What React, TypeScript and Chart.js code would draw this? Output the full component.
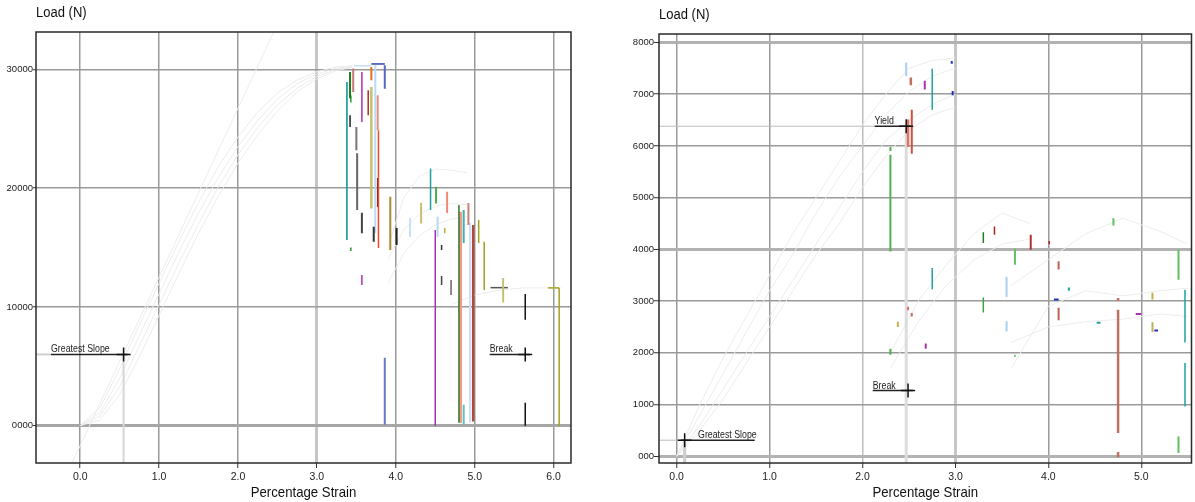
import React, { useEffect, useRef } from "react";
import { Chart, registerables } from "chart.js";
Chart.register(...registerables);

// ---------------- LEFT PANEL DATA ----------------
const leftStrainTicks = [0, 1, 2, 3, 4, 5, 6];
const leftStrainTickLabels = ["0.0", "1.0", "2.0", "3.0", "4.0", "5.0", "6.0"];
const leftLoadTicks = [0, 10000, 20000, 30000];
const leftLoadTickLabels = ["0000", "10000", "20000", "30000"];

const leftCurveStrain = [0, 0.25, 0.5, 0.75, 1.0, 1.25, 1.5, 1.75, 2.0, 2.25, 2.5, 2.75, 3.0, 3.25, 3.45];
const leftCurve1 = [0, 1500, 4800, 8500, 12000, 15500, 18800, 21800, 24300, 26400, 28000, 29100, 29800, 30200, 30300];
const leftCurve2 = [0, 1100, 4000, 7600, 11100, 14600, 17900, 20900, 23500, 25700, 27500, 28800, 29600, 30100, 30250];
const leftCurve3 = [0, 800, 3300, 6700, 10200, 13700, 17000, 20100, 22800, 25100, 27000, 28400, 29400, 30000, 30200];
const leftCurve4 = [0, 500, 2600, 5800, 9300, 12800, 16200, 19300, 22100, 24500, 26500, 28100, 29200, 29900, 30150];
const leftTailStrain = [3.9, 4.1, 4.3, 4.5, 4.7, 4.9];
const leftTail1 = [15000, 19200, 21000, 21600, 21500, 21300];
const leftTail2 = [14000, 16500, 17800, 18500, 18700, 18600];
const leftTail3 = [12000, 14500, 16000, 16900, 17400, 17600];
const leftLateStrain = [4.7, 5.0, 5.3, 5.6, 5.9, 6.1];
const leftLate = [10200, 11000, 11400, 11600, 11600, 11600];

// vertical segments: strain, upper load, lower load
const leftSegStrain = [3.38, 3.42, 3.46, 3.42, 3.43, 3.57, 3.5, 3.51, 3.57, 3.72, 3.69, 3.69, 3.74, 3.65, 3.77, 3.78, 3.77, 3.86, 3.86, 3.57, 3.93, 4.01, 4.18, 4.32, 4.44, 4.51, 4.53, 4.65, 4.62, 4.58, 4.58, 4.7, 4.5, 4.8, 4.82, 4.86, 4.86, 4.92, 4.94, 4.98, 5.05, 5.12, 5.36, 5.64, 5.64, 6.07, 3.43];
const leftSegUpper = [28930, 29770, 30060, 26130, 27800, 29770, 25150, 22940, 17920, 16750, 30200, 28510, 30340, 28240, 27810, 24870, 20840, 30340, 5710, 12690, 19270, 16640, 17480, 18770, 21650, 20110, 17590, 19700, 16650, 15200, 12600, 12270, 16470, 18570, 18010, 18150, 1760, 18740, 17060, 16890, 17310, 15490, 12440, 11090, 1930, 11600, 15000];
const leftSegLower = [15630, 27560, 28090, 25150, 27200, 25570, 23190, 18150, 16210, 15490, 29080, 18290, 16220, 26130, 24870, 14960, 18400, 28370, 80, 11850, 14790, 15210, 15880, 17030, 18150, 18710, 15910, 17900, 16200, 14800, 11850, 11010, 0, 250, 250, 15380, 80, 16890, 250, 360, 15380, 11430, 10360, 8910, 0, 0, 14700];
const leftSegColor = ["#1fa0a0", "#1a7a1a", "#c87878", "#222222", "#2a9a2a", "#b030b0", "#777777", "#666666", "#444444", "#333333", "#e07020", "#c8c070", "#b8dcf8", "#b03020", "#f08878", "#f04a2a", "#702020", "#5868c0", "#6a78c8", "#b030b0", "#b08830", "#222222", "#c8e0f8", "#c8c070", "#1fa0a0", "#48b048", "#b8d8f8", "#f08878", "#b0b040", "#333333", "#444444", "#666666", "#a030b0", "#2a7a2a", "#f89888", "#40b0b0", "#60c0c0", "#c88078", "#c8e0f8", "#b04a3a", "#a0a020", "#a0a020", "#c8c070", "#111111", "#111111", "#a8a020", "#2a9a2a"];
const leftSegWidth = [1, 2, 2, 1.5, 1.5, 1.5, 2, 2, 2, 2, 2, 2.5, 2, 1.5, 2, 1.5, 1.5, 2, 2, 1.5, 2, 2, 2, 2, 1.5, 2, 2, 2, 1.5, 1.5, 1.5, 1.5, 1.5, 1.5, 3, 2, 2, 2, 2, 2.5, 1.5, 1.5, 2, 1.5, 1.5, 1.5, 1.5];

// horizontal dashes: from strain, to strain, load
const leftDashFrom = [3.69, 3.47, 5.93, 5.2];
const leftDashTo = [3.86, 3.69, 6.07, 5.42];
const leftDashLoad = [30450, 30300, 11600, 11620];
const leftDashColor = ["#3040b0", "#c8dcf0", "#a8a020", "#555555"];

// annotations
const leftMarkNames = ["Greatest Slope", "Break"];
const leftMarkStrain = [0.55, 5.64];
const leftMarkLoad = [6000, 6000];
const leftMarkLabelStrain = [-0.37, 5.19];
const leftMarkLineEnd = [0.6, 5.7];

// ---------------- RIGHT PANEL DATA ----------------
const rightStrainTicks = [0, 1, 2, 3, 4, 5];
const rightStrainTickLabels = ["0.0", "1.0", "2.0", "3.0", "4.0", "5.0"];
const rightLoadTicks = [0, 1000, 2000, 3000, 4000, 5000, 6000, 7000, 8000];
const rightLoadTickLabels = ["000", "1000", "2000", "3000", "4000", "5000", "6000", "7000", "8000"];

const rightCurveStrain = [0, 0.25, 0.5, 0.75, 1.0, 1.25, 1.5, 1.75, 2.0, 2.25, 2.5, 2.75, 3.0];
const rightCurve1 = [0, 1000, 1900, 2700, 3500, 4300, 5000, 5700, 6400, 7000, 7500, 7650, 7700];
const rightCurve2 = [0, 800, 1600, 2400, 3200, 3900, 4700, 5400, 6000, 6600, 7050, 7350, 7500];
const rightCurve3 = [0, 600, 1300, 2000, 2700, 3400, 4100, 4800, 5500, 6100, 6500, 6800, 7000];
const rightCurve4 = [0, 500, 1100, 1800, 2500, 3200, 3900, 4500, 5200, 5800, 6300, 6600, 6750];
const rightMidStrain = [2.3, 2.6, 2.9, 3.2, 3.5, 3.8];
const rightMid1 = [2000, 3000, 3700, 4300, 4700, 4500];
const rightMid2 = [1700, 2600, 3300, 3800, 4100, 4200];
const rightLateStrain = [3.6, 4.0, 4.4, 4.8, 5.2, 5.5];
const rightLate1 = [1700, 2900, 3200, 3100, 3200, 3250];
const rightLate2 = [3300, 3800, 4300, 4600, 4350, 4100];
const rightLate3 = [2200, 2500, 2600, 2650, 2750, 2700];

const rightSegStrain = [2.47, 2.52, 2.67, 2.75, 2.96, 2.97, 2.53, 2.49, 2.3, 2.3, 3.3, 3.42, 3.81, 3.64, 2.75, 3.55, 3.55, 3.3, 4.11, 4.11, 4.22, 4.75, 4.75, 4.75, 5.4, 5.4, 5.47, 5.12, 5.12, 4.7, 2.68, 2.3, 2.49, 2.53, 2.38, 3.64, 4.01, 5.47];
const rightSegUpper = [7610, 7320, 7260, 7490, 7640, 7060, 6700, 6510, 5980, 5830, 4330, 4440, 4280, 4010, 3640, 3470, 2610, 3070, 3770, 2870, 3260, 2830, 3060, 80, 3990, 380, 3220, 3160, 2590, 4600, 2180, 2080, 2890, 2770, 2600, 1960, 4160, 1800];
const rightSegLower = [7350, 7170, 7090, 6700, 7590, 6980, 5850, 5980, 5900, 3960, 4120, 4280, 3990, 3700, 3230, 3080, 2410, 2780, 3610, 2630, 3200, 450, 3000, -20, 3410, 60, 2200, 3030, 2400, 4460, 2080, 1960, 2820, 2700, 2500, 1920, 4100, 960];
const rightSegColor = ["#a8d0f0", "#c07060", "#b030b0", "#20a0a0", "#2030c0", "#2030c0", "#d05040", "#e07060", "#50b050", "#50b050", "#208020", "#b02020", "#b03030", "#60c060", "#20a0a0", "#a8d0f0", "#a8d0f0", "#40a040", "#c06050", "#c06050", "#20a0a0", "#c07060", "#c07060", "#c07060", "#60c060", "#60c060", "#20a0a0", "#c0b050", "#c0b050", "#60c060", "#b030b0", "#50b050", "#e04030", "#c07060", "#c0b050", "#60c060", "#b02020", "#20a0a0"];
const rightSegWidth = [2, 2.5, 2, 1.5, 2, 2, 2, 2.5, 2, 2, 1.5, 1.5, 2, 2, 1.5, 2, 2, 1.5, 2, 2, 2, 2.5, 2.5, 2.5, 2, 2, 1.5, 2, 2, 2, 2, 2, 1.5, 2, 2, 1.5, 1.5, 1.5];

const rightDashFrom = [4.06, 4.94, 5.14, 4.52];
const rightDashTo = [4.11, 5.0, 5.18, 4.56];
const rightDashLoad = [3030, 2750, 2430, 2580];
const rightDashColor = ["#2030c0", "#b030b0", "#2030c0", "#20a0a0"];

const rightMarkNames = ["Yield", "Break", "Greatest Slope"];
const rightMarkStrain = [2.47, 2.49, 0.086];
const rightMarkLoad = [6380, 1270, 310];
const rightMarkLabelStrain = [2.13, 2.11, 0.23];
const rightMarkLineStart = [2.13, 2.11, 0.045];
const rightMarkLineEnd = [2.52, 2.54, 0.84];

const FONT = "'Liberation Sans', Arial, sans-serif";

type Panel = {
  xMin: number; xMax: number; yMin: number; yMax: number;
  xTicks: number[]; xTickLabels: string[]; yTicks: number[]; yTickLabels: string[];
  yAxisWidth: number; yTickLen: number; padTop: number; padRight: number;
  xGridStyle: (v: number) => [string, number];
  yGridStyle: (v: number) => [string, number];
  datasets: any[];
  labels: { text: string; x: number; y: number }[];
};

const pts = (xs: number[], ys: number[]) => xs.map((x, i) => ({ x, y: ys[i] }));

function curveDs(xs: number[], ys: number[]) {
  return { data: pts(xs, ys), showLine: true, borderColor: "#ececec", borderWidth: 1, pointRadius: 0, order: 5 };
}
function segDs(x0: number, y0: number, x1: number, y1: number, color: string, width: number, order = 2) {
  return {
    data: [{ x: x0, y: y0 }, { x: x1, y: y1 }], showLine: true, borderColor: color,
    borderWidth: width, pointRadius: 0, borderCapStyle: "butt", order,
  };
}
function crossDs(x: number, y: number) {
  return {
    data: [{ x, y }], showLine: false, pointStyle: "cross", pointRadius: 7,
    borderColor: "#111", pointBorderColor: "#111", pointBorderWidth: 1.5, order: 0,
  };
}

function leftPanel(): Panel {
  const ds: any[] = [];
  ds.push(curveDs(leftCurveStrain, leftCurve1));
  ds.push(curveDs(leftCurveStrain, leftCurve2));
  ds.push(curveDs(leftCurveStrain, leftCurve3));
  ds.push(curveDs(leftCurveStrain, leftCurve4));
  ds.push(curveDs(leftTailStrain, leftTail1));
  ds.push(curveDs(leftTailStrain, leftTail2));
  ds.push(curveDs(leftTailStrain, leftTail3));
  ds.push(curveDs(leftLateStrain, leftLate));
  ds.push(curveDs([-0.1, 2.45], [-3100, 33100]));
  leftSegStrain.forEach((x, i) => ds.push(segDs(x, leftSegUpper[i], x, leftSegLower[i], leftSegColor[i], leftSegWidth[i])));
  leftDashFrom.forEach((x, i) => ds.push(segDs(x, leftDashLoad[i], leftDashTo[i], leftDashLoad[i], leftDashColor[i], 1.5)));
  const labels: any[] = [];
  leftMarkNames.forEach((n, i) => {
    ds.push(segDs(leftMarkLabelStrain[i], leftMarkLoad[i], leftMarkLineEnd[i], leftMarkLoad[i], "#222", 1.5, 1));
    ds.push(crossDs(leftMarkStrain[i], leftMarkLoad[i]));
    labels.push({ text: n, x: leftMarkLabelStrain[i], y: leftMarkLoad[i] });
  });
  ds.push(segDs(-0.6, leftMarkLoad[0], leftMarkLabelStrain[0], leftMarkLoad[0], "#cfcfcf", 2, 3));
  ds.push(segDs(leftMarkStrain[0], leftMarkLoad[0], leftMarkStrain[0], -3200, "#d6d6d6", 2, 3));
  return {
    xMin: -0.56, xMax: 6.22, yMin: -3140, yMax: 33140,
    xTicks: leftStrainTicks, xTickLabels: leftStrainTickLabels,
    yTicks: leftLoadTicks, yTickLabels: leftLoadTickLabels,
    yAxisWidth: 36, yTickLen: 3, padTop: 32, padRight: 19,
    xGridStyle: (v) => (v === 3 ? ["#c6c6c6", 3] : ["#9a9a9a", 1.5]),
    yGridStyle: (v) => (v === 0 ? ["#a6a6a6", 3] : ["#9a9a9a", 1.5]),
    datasets: ds, labels,
  };
}

function rightPanel(): Panel {
  const ds: any[] = [];
  ds.push(curveDs(rightCurveStrain, rightCurve1));
  ds.push(curveDs(rightCurveStrain, rightCurve2));
  ds.push(curveDs(rightCurveStrain, rightCurve3));
  ds.push(curveDs(rightCurveStrain, rightCurve4));
  ds.push(curveDs(rightMidStrain, rightMid1));
  ds.push(curveDs(rightMidStrain, rightMid2));
  ds.push(curveDs(rightLateStrain, rightLate1));
  ds.push(curveDs(rightLateStrain, rightLate2));
  ds.push(curveDs(rightLateStrain, rightLate3));
  rightSegStrain.forEach((x, i) => ds.push(segDs(x, rightSegUpper[i], x, rightSegLower[i], rightSegColor[i], rightSegWidth[i])));
  rightDashFrom.forEach((x, i) => ds.push(segDs(x, rightDashLoad[i], rightDashTo[i], rightDashLoad[i], rightDashColor[i], 2)));
  const labels: any[] = [];
  rightMarkNames.forEach((n, i) => {
    ds.push(segDs(rightMarkLineStart[i], rightMarkLoad[i], rightMarkLineEnd[i], rightMarkLoad[i], "#222", 1.5, 1));
    ds.push(crossDs(rightMarkStrain[i], rightMarkLoad[i]));
    labels.push({ text: n, x: rightMarkLabelStrain[i], y: rightMarkLoad[i] });
  });
  ds.push(segDs(-0.3, rightMarkLoad[0], rightMarkLineStart[0], rightMarkLoad[0], "#bdbdbd", 1, 3));
  ds.push(segDs(rightMarkStrain[0], rightMarkLoad[0], rightMarkStrain[0], -200, "#dcdcdc", 3, 3));
  ds.push(segDs(-0.3, rightMarkLoad[2], rightMarkStrain[2], rightMarkLoad[2], "#bdbdbd", 1, 3));
  ds.push(segDs(rightMarkStrain[2], rightMarkLoad[2], rightMarkStrain[2], -200, "#cfcfcf", 3, 3));
  return {
    xMin: -0.19, xMax: 5.54, yMin: -131, yMax: 8163,
    xTicks: rightStrainTicks, xTickLabels: rightStrainTickLabels,
    yTicks: rightLoadTicks, yTickLabels: rightLoadTickLabels,
    yAxisWidth: 59, yTickLen: 5, padTop: 34, padRight: 2,
    xGridStyle: (v) => (v === 3 ? ["#c6c6c6", 3] : v === 2 ? ["#bdbdbd", 1.5] : ["#9a9a9a", 1.5]),
    yGridStyle: (v) => (v === 0 || v === 4000 || v === 8000 ? ["#b2b2b2", 3] : ["#9a9a9a", 1.5]),
    datasets: ds, labels,
  };
}

function drawText(ctx: CanvasRenderingContext2D, text: string, x: number, y: number, size: number, sx: number, align: CanvasTextAlign, base: CanvasTextBaseline) {
  ctx.save();
  ctx.font = `${size}px ${FONT}`;
  ctx.translate(x, y);
  ctx.scale(sx, 1);
  ctx.textAlign = align;
  ctx.textBaseline = base;
  ctx.fillText(text, 0, 0);
  ctx.restore();
}

function ChartPanel({ panel, width, left }: { panel: Panel; width: number; left: number }) {
  const ref = useRef<HTMLCanvasElement>(null);
  useEffect(() => {
    const p = panel;
    const textPlugin = {
      id: "texts",
      afterDraw(chart: any) {
        const ctx = chart.ctx as CanvasRenderingContext2D;
        const a = chart.chartArea;
        const xs = chart.scales.x;
        const ys = chart.scales.y;
        ctx.save();
        ctx.strokeStyle = "#2a2a2a";
        ctx.lineWidth = 1.5;
        ctx.strokeRect(a.left, a.top, a.right - a.left, a.bottom - a.top);
        ctx.fillStyle = "#111";
        drawText(ctx, "Load (N)", a.left, a.top - 19, 14, 0.93, "left", "middle");
        drawText(ctx, "Percentage Strain", (a.left + a.right) / 2, 493, 15, 0.88, "center", "middle");
        ctx.fillStyle = "#222";
        p.labels.forEach((l) => {
          drawText(ctx, l.text, xs.getPixelForValue(l.x), ys.getPixelForValue(l.y) - 2, 11, 0.8, "left", "alphabetic");
        });
        ctx.restore();
      },
    };
    const chart = new Chart(ref.current as HTMLCanvasElement, {
      type: "scatter",
      data: { datasets: p.datasets },
      options: {
        animation: false,
        responsive: false,
        maintainAspectRatio: false,
        layout: { padding: { left: 0, top: p.padTop, right: p.padRight, bottom: 0 } },
        plugins: { legend: { display: false }, tooltip: { enabled: false } },
        scales: {
          x: {
            type: "linear", min: p.xMin, max: p.xMax,
            afterBuildTicks: (s: any) => { s.ticks = p.xTicks.map((v) => ({ value: v })); },
            afterFit: (s: any) => { s.height = 39; },
            ticks: {
              callback: (_v: any, i: number) => p.xTickLabels[i],
              font: { family: FONT, size: 10.5 }, color: "#222", padding: 3, maxRotation: 0,
            },
            grid: {
              drawTicks: true, tickLength: 5, tickColor: "#333", tickWidth: 1,
              color: (c: any) => p.xGridStyle(c.tick ? c.tick.value : 0)[0],
              lineWidth: (c: any) => p.xGridStyle(c.tick ? c.tick.value : 0)[1],
            },
            border: { display: false },
          },
          y: {
            type: "linear", min: p.yMin, max: p.yMax,
            afterBuildTicks: (s: any) => { s.ticks = p.yTicks.map((v) => ({ value: v })); },
            afterFit: (s: any) => { s.width = p.yAxisWidth; },
            ticks: {
              callback: (_v: any, i: number) => p.yTickLabels[i],
              font: { family: FONT, size: 9.5 }, color: "#222", padding: 0,
            },
            grid: {
              drawTicks: true, tickLength: p.yTickLen, tickColor: "#333", tickWidth: 1,
              color: (c: any) => p.yGridStyle(c.tick ? c.tick.value : 0)[0],
              lineWidth: (c: any) => p.yGridStyle(c.tick ? c.tick.value : 0)[1],
            },
            border: { display: false },
          },
        },
      } as any,
      plugins: [textPlugin],
    });
    return () => chart.destroy();
  }, [panel]);
  return (
    <canvas
      ref={ref}
      width={width}
      height={502}
      style={{ position: "absolute", left, top: 0, width, height: 502 }}
    />
  );
}

const LEFT = leftPanel();
const RIGHT = rightPanel();

export default function App() {
  return (
    <div style={{ position: "fixed", left: 0, top: 0, width: 1195, height: 502, overflow: "hidden", background: "#fff" }}>
      <ChartPanel panel={LEFT} width={590} left={0} />
      <ChartPanel panel={RIGHT} width={600} left={600} />
    </div>
  );
}
